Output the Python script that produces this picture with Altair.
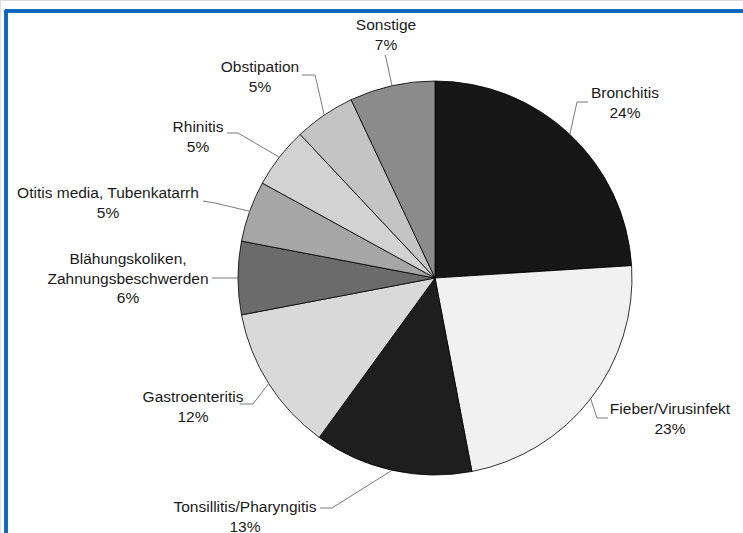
import math
import altair as alt
import pandas as pd

# ---- data ----
categories = ["Bronchitis", "Fieber/Virusinfekt", "Tonsillitis/Pharyngitis", "Gastroenteritis",
              "Blähungskoliken, Zahnungsbeschwerden", "Otitis media, Tubenkatarrh",
              "Rhinitis", "Obstipation", "Sonstige"]
values = [24, 23, 13, 12, 6, 5, 5, 5, 7]
label_lines = [["Bronchitis"], ["Fieber/Virusinfekt"], ["Tonsillitis/Pharyngitis"], ["Gastroenteritis"],
               ["Blähungskoliken,", "Zahnungsbeschwerden"], ["Otitis media, Tubenkatarrh"],
               ["Rhinitis"], ["Obstipation"], ["Sonstige"]]
fills = ["#161616", "#f1f1f1", "#1e1e1e", "#d9d9d9", "#6b6b6b", "#a6a6a6", "#d2d2d2", "#c4c4c4", "#8b8b8b"]

# ---- layout (pixels) ----
CX, CY, R = 435, 278, 197
label_pos = {  # x centre, y of first text line
    "Bronchitis": (625, 93), "Fieber/Virusinfekt": (670, 409), "Tonsillitis/Pharyngitis": (245, 507),
    "Gastroenteritis": (193, 397), "Blähungskoliken, Zahnungsbeschwerden": (128, 259),
    "Otitis media, Tubenkatarrh": (108, 193), "Rhinitis": (198, 127), "Obstipation": (260, 67),
    "Sonstige": (386, 25),
}
leader_start = {  # (start, elbow) of leader line next to the label
    "Bronchitis": [(588, 102), (577, 102)], "Fieber/Virusinfekt": [(608, 418), (597, 418)],
    "Tonsillitis/Pharyngitis": [(320, 508), (332, 508)], "Gastroenteritis": [(240, 404), (253, 404)],
    "Blähungskoliken, Zahnungsbeschwerden": [(212, 278), (225, 278)],
    "Otitis media, Tubenkatarrh": [(203, 201), (215, 203)], "Rhinitis": [(227, 133), (238, 133)],
    "Obstipation": [(302, 75), (315, 75)], "Sonstige": [(385, 55), (386, 58)],
}

df = pd.DataFrame({"category": categories, "value": values, "idx": list(range(len(values)))})

# leader lines: label side points + point on the pie edge at the slice's mid angle
rows = []
cum = 0
total = sum(values)
for c, v in zip(categories, values):
    mid = (cum + v / 2) / total * 2 * math.pi
    cum += v
    ex, ey = CX + R * math.sin(mid), CY - R * math.cos(mid)
    pts = leader_start[c] + [(ex, ey)]
    for k, (px, py) in enumerate(pts):
        rows.append({"category": c, "k": k, "px": px, "py": py})
leaders = pd.DataFrame(rows)

labels = pd.DataFrame({
    "category": categories,
    "text": ["\n".join(l + [f"{v}%"]) for l, v in zip(label_lines, values)],
    "px": [label_pos[c][0] for c in categories],
    "py": [label_pos[c][1] for c in categories],
})

pie = alt.Chart(df).mark_arc(radius=R, stroke="#000000", strokeWidth=0.8).encode(
    theta=alt.Theta("value:Q", stack=True),
    order=alt.Order("idx:Q"),
    color=alt.Color("category:N", scale=alt.Scale(domain=categories, range=fills), legend=None),
    x=alt.value(CX), y=alt.value(CY),
)

lines = alt.Chart(leaders).mark_line(color="#7a7a7a", strokeWidth=1).encode(
    x=alt.X("px:Q", scale=None), y=alt.Y("py:Q", scale=None),
    detail="category:N", order="k:Q",
)

text = alt.Chart(labels).mark_text(font="Liberation Sans", fontSize=15.5, lineBreak="\n",
                                   lineHeight=19.5, align="center", baseline="middle",
                                   color="#1a1a1a").encode(
    x=alt.X("px:Q", scale=None), y=alt.Y("py:Q", scale=None), text="text:N",
)

frame_top = alt.Chart(df).mark_rule(color="#0a66b8", strokeWidth=2.5).encode(
    x=alt.value(5), x2=alt.value(743), y=alt.value(11))
frame_left = alt.Chart(df).mark_rule(color="#0a66b8", strokeWidth=2.5).encode(
    x=alt.value(6), y=alt.value(10), y2=alt.value(533))

chart = alt.layer(frame_top, frame_left, pie, lines, text).properties(
    width=743, height=533, padding=0, autosize=alt.AutoSizeParams(type="none"),
).configure_view(stroke=None).configure(background="#ffffff")

chart.save("out.html", embed_options={"renderer": "svg", "actions": False})
